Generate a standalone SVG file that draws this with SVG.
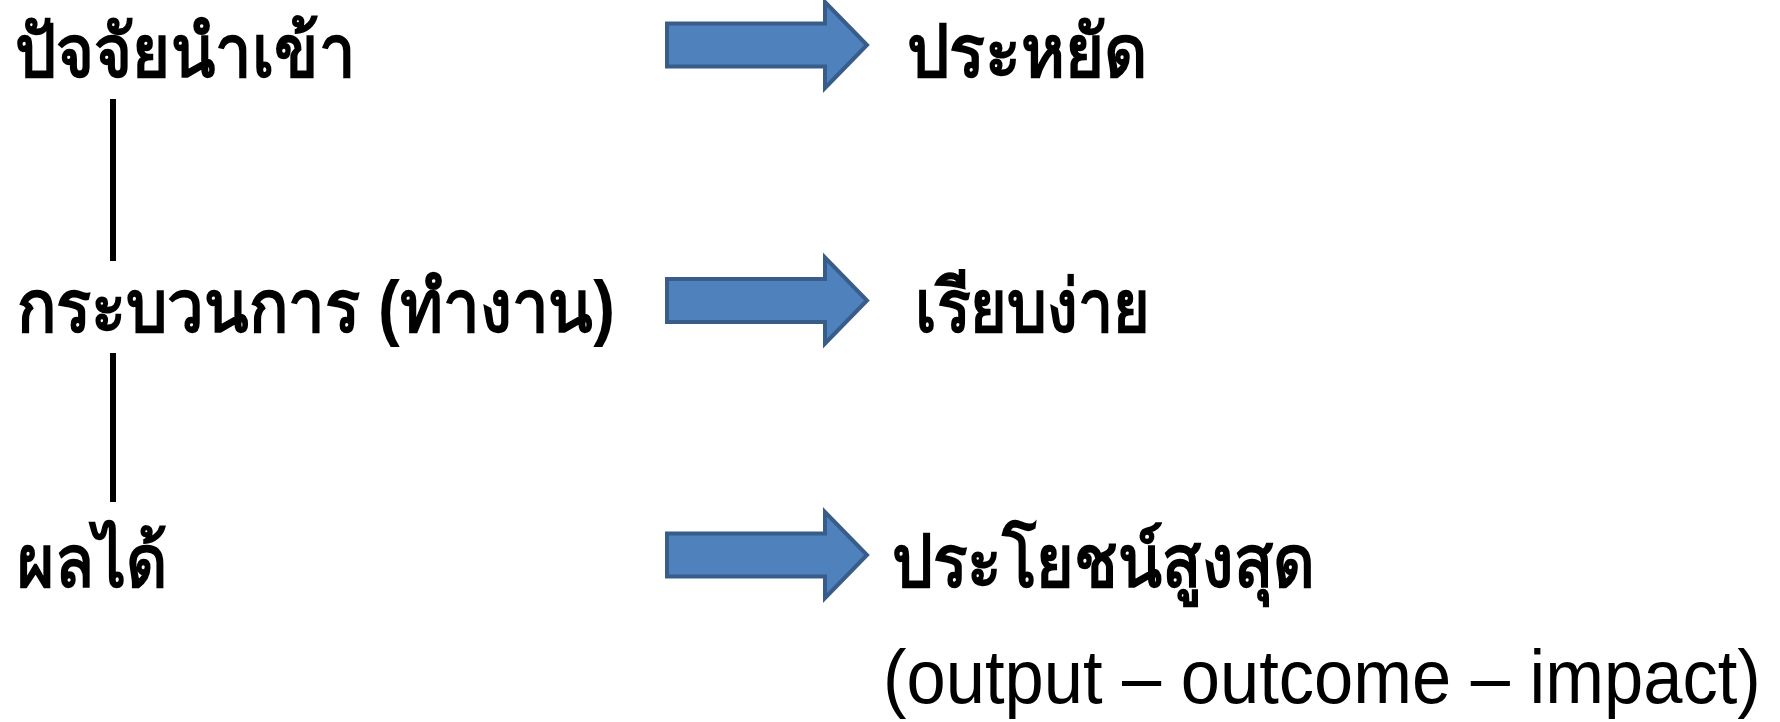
<svg xmlns="http://www.w3.org/2000/svg" width="1780" height="722" viewBox="0 0 1780 722">
<defs>
<style>
.th{font-family:"Liberation Sans","Noto Sans",sans-serif;font-weight:bold;font-size:73px;fill:#000}
.en{font-family:"Liberation Sans",Arial,sans-serif;font-size:70.5px;fill:#000}
.arr{fill:#4F81BD;stroke:#385D8A;stroke-width:4}
.ln{stroke:#000;stroke-width:6}
</style>
<path id="ar" d="M0,-21.5 L158,-21.5 L158,-43 L200,0 L158,43 L158,21.5 L0,21.5 Z"/>
</defs>
<rect width="1780" height="722" fill="#fff"/>
<g id="connectors">
<line class="ln" x1="113" y1="99" x2="113" y2="261"/>
<line class="ln" x1="113" y1="353" x2="113" y2="502"/>
<use href="#ar" class="arr" x="667" y="45"/>
<use href="#ar" class="arr" x="667" y="300.5"/>
<use href="#ar" class="arr" x="667" y="555"/>
</g>
<g id="n1"><text class="th" x="15" y="77" textLength="340" lengthAdjust="spacingAndGlyphs">ปัจจัยนำเข้า</text></g>
<g id="n2"><text class="th" x="17" y="332" textLength="598" lengthAdjust="spacingAndGlyphs">กระบวนการ (ทำงาน)</text></g>
<g id="n3"><text class="th" x="17" y="587" textLength="150" lengthAdjust="spacingAndGlyphs">ผลได้</text></g>
<g id="r1"><text class="th" x="907" y="77" textLength="240" lengthAdjust="spacingAndGlyphs">ประหยัด</text></g>
<g id="r2"><text class="th" x="915" y="332" textLength="235" lengthAdjust="spacingAndGlyphs">เรียบง่าย</text></g>
<g id="r3"><text class="th" x="892" y="587" textLength="423" lengthAdjust="spacingAndGlyphs">ประโยชน์สูงสุด</text></g>
<g id="r4"><text class="en" transform="translate(883,703) scale(1,1.09)" x="0" y="0">(output – outcome – impact)</text></g>
</svg>
